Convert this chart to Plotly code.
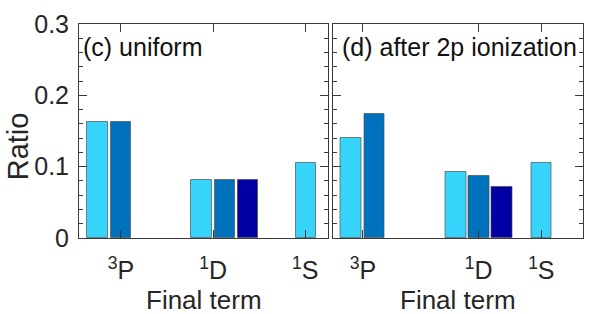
import plotly.graph_objects as go

# ---- data ----
term_labels = ["<sup>3</sup>P", "<sup>1</sup>D", "<sup>1</sup>S"]
tick_pos_c = [1.0, 2.0, 3.0]
tick_pos_d = [0.877, 2.136, 2.818]

# panel (c) uniform
c_light_x = [0.746, 1.875, 3.008]
c_light_y = [0.162, 0.082, 0.105]
c_mid_x = [1.0, 2.129]
c_mid_y = [0.162, 0.082]
c_dark_x = [2.38]
c_dark_y = [0.082]

# panel (d) after 2p ionization
d_light_x = [0.750, 1.887, 2.821]
d_light_y = [0.140, 0.092, 0.1055]
d_mid_x = [1.003, 2.137]
d_mid_y = [0.174, 0.087]
d_dark_x = [2.389]
d_dark_y = [0.072]

colors = ["#36D3FA", "#0072BD", "#0000A3"]
bar_width = 0.225
font_family = "Liberation Sans, Arial, Helvetica, sans-serif"

fig = go.Figure()

def add_bars(xs, ys, color, xa, ya):
    fig.add_trace(go.Bar(
        x=xs, y=ys, width=bar_width, marker_color=color,
        marker_line=dict(color="rgba(70,70,70,0.65)", width=1),
        xaxis=xa, yaxis=ya, showlegend=False))

add_bars(c_light_x, c_light_y, colors[0], "x", "y")
add_bars(c_mid_x, c_mid_y, colors[1], "x", "y")
add_bars(c_dark_x, c_dark_y, colors[2], "x", "y")
add_bars(d_light_x, d_light_y, colors[0], "x2", "y2")
add_bars(d_mid_x, d_mid_y, colors[1], "x2", "y2")
add_bars(d_dark_x, d_dark_y, colors[2], "x2", "y2")

axis_col = "#3a3a3a"
common_x = dict(showline=True, linecolor=axis_col, linewidth=1, mirror="allticks",
                ticks="inside", ticklen=8, tickcolor=axis_col, showgrid=False,
                zeroline=False, tickmode="array", ticktext=term_labels,
                automargin=False, ticklabelstandoff=10,
                tickfont=dict(family=font_family, size=25, color="#262626"))
common_y = dict(showline=True, linecolor=axis_col, linewidth=1, mirror="allticks",
                ticks="inside", ticklen=8, tickcolor=axis_col, showgrid=False,
                zeroline=False, range=[0, 0.3], dtick=0.1, tick0=0, automargin=False,
                minor=dict(ticks="inside", ticklen=4, dtick=0.02, tickcolor=axis_col),
                tickfont=dict(family=font_family, size=25, color="#262626"))

fig.update_layout(
    width=598, height=314,
    margin=dict(l=79, r=15, t=24, b=76, autoexpand=False),
    paper_bgcolor="white", plot_bgcolor="white",
    bargap=0,
    xaxis=dict(domain=[0, 0.4946], range=[0.545, 3.25], tickvals=tick_pos_c, **common_x),
    xaxis2=dict(domain=[0.503, 1], range=[0.547, 3.271], tickvals=tick_pos_d, **common_x),
    yaxis=dict(anchor="x", ticklabelstandoff=4, **common_y),
    yaxis2=dict(anchor="x2", matches="y", showticklabels=False, **common_y),
    # right-side mirrors so minor ticks show on both edges of each panel
    yaxis3=dict(anchor="x", overlaying="y", side="right", showticklabels=False, **common_y),
    yaxis4=dict(anchor="x2", overlaying="y2", side="right", showticklabels=False, **common_y),
    font=dict(family=font_family, color="#262626"),
)

fig.add_annotation(text="(c) uniform", xref="x domain", yref="y domain", x=0.008, y=0.894,
                   xanchor="left", yanchor="middle", showarrow=False,
                   font=dict(size=25, family=font_family, color="#111"))
fig.add_annotation(text="(d) after 2p ionization", xref="x2 domain", yref="y2 domain", x=0.03, y=0.894,
                   xanchor="left", yanchor="middle", showarrow=False,
                   font=dict(size=25, family=font_family, color="#111"))
fig.add_annotation(text="Final term", xref="x domain", yref="paper", x=0.5, y=-0.29,
                   xanchor="center", yanchor="middle", showarrow=False,
                   font=dict(size=26, family=font_family, color="#262626"))
fig.add_annotation(text="Final term", xref="x2 domain", yref="paper", x=0.5, y=-0.29,
                   xanchor="center", yanchor="middle", showarrow=False,
                   font=dict(size=26, family=font_family, color="#262626"))
fig.add_annotation(text="Ratio", xref="paper", yref="paper", x=-0.1204, y=0.43,
                   xanchor="center", yanchor="middle", textangle=-90, showarrow=False,
                   font=dict(size=29, family=font_family, color="#262626"))

fig.write_html("out.html", config={"displayModeBar": False},
               post_script="document.body.style.margin='0';document.body.style.overflow='hidden';")
